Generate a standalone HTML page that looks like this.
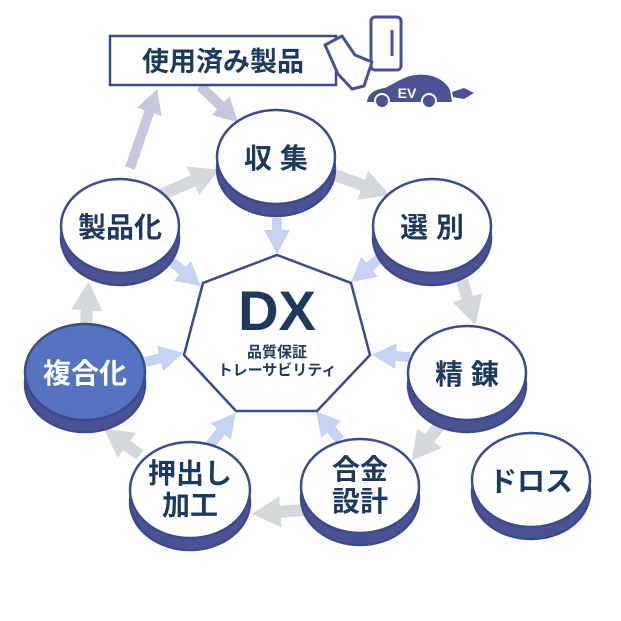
<!DOCTYPE html>
<html><head><meta charset="utf-8"><style>
html,body{margin:0;padding:0;background:#fff;width:621px;height:621px;overflow:hidden}
svg text{font-family:"Liberation Sans","Noto Sans CJK JP",sans-serif;font-weight:bold;fill:#1d3a5c;text-anchor:middle}
</style></head><body>
<svg width="621" height="621" viewBox="0 0 621 621" xmlns="http://www.w3.org/2000/svg">
<defs>
<marker id="g" markerWidth="2.4" markerHeight="2.6" refX="0.2" refY="1.3" orient="auto" markerUnits="strokeWidth"><path d="M0,0 L2.4,1.3 L0,2.6z" fill="#d5d8dc"/></marker>
<marker id="b" markerWidth="2.4" markerHeight="2.6" refX="0.2" refY="1.3" orient="auto" markerUnits="strokeWidth"><path d="M0,0 L2.4,1.3 L0,2.6z" fill="#c4d3f1"/></marker>
<marker id="l" markerWidth="2.4" markerHeight="2.6" refX="0.2" refY="1.3" orient="auto" markerUnits="strokeWidth"><path d="M0,0 L2.4,1.3 L0,2.6z" fill="#c6c6dd"/></marker>
</defs>
<g stroke="#d5d8dc" stroke-width="12" marker-end="url(#g)" fill="none">
<line x1="160" y1="195" x2="195" y2="180"/>
<line x1="335" y1="175" x2="365" y2="186"/>
<line x1="462" y1="280" x2="468" y2="300"/>
<line x1="440" y1="425" x2="428" y2="440"/>
<line x1="305" y1="510" x2="278" y2="512"/>
<line x1="140" y1="455" x2="125" y2="444"/>
<line x1="86" y1="325" x2="87" y2="308"/>
</g>
<g stroke="#c6c6dd" stroke-width="10" marker-end="url(#l)" fill="none">
<line x1="130" y1="168" x2="150" y2="110"/>
<line x1="200" y1="86" x2="222" y2="107"/>
</g>
<g stroke="#c4d3f1" stroke-width="10" marker-end="url(#b)" fill="none">
<line x1="277" y1="218" x2="277" y2="232"/>
<line x1="380" y1="258" x2="368" y2="268"/>
<line x1="172" y1="262" x2="184" y2="272"/>
<line x1="410" y1="357" x2="394" y2="356"/>
<line x1="145" y1="362" x2="162" y2="358"/>
<line x1="210" y1="445" x2="222" y2="430"/>
<line x1="340" y1="440" x2="330" y2="428"/>
</g>
<polygon points="277,255 351,283 370,355 317,411 236,411 184,355 203,283" fill="#fff" stroke="#3b4a8f" stroke-width="2.5"/>
<text x="277" y="330" font-size="56" style="font-weight:bold">DX</text>
<text x="277" y="357" font-size="15">品質保証</text>
<text x="277" y="375" font-size="15">トレーサビリティ</text>
<g stroke="#3b4a8f" stroke-width="2.5">
<ellipse cx="276" cy="169" rx="59" ry="47" fill="#4b5294"/><ellipse cx="276" cy="157" rx="59" ry="47" fill="#fff"/>
<ellipse cx="432" cy="238" rx="59" ry="47" fill="#4b5294"/><ellipse cx="432" cy="226" rx="59" ry="47" fill="#fff"/>
<ellipse cx="120" cy="238" rx="59" ry="47" fill="#4b5294"/><ellipse cx="120" cy="226" rx="59" ry="47" fill="#fff"/>
<ellipse cx="467" cy="385" rx="59" ry="47" fill="#4b5294"/><ellipse cx="467" cy="373" rx="59" ry="47" fill="#fff"/>
<ellipse cx="85" cy="384" rx="60" ry="48" fill="#4b5294"/><ellipse cx="85" cy="372" rx="60" ry="48" fill="#5573c1"/>
<ellipse cx="360" cy="498" rx="59" ry="47" fill="#4b5294"/><ellipse cx="360" cy="486" rx="59" ry="47" fill="#fff"/>
<ellipse cx="190" cy="502" rx="60" ry="48" fill="#4b5294"/><ellipse cx="190" cy="490" rx="60" ry="48" fill="#fff"/>
<ellipse cx="531" cy="492" rx="59" ry="47" fill="#4b5294"/><ellipse cx="531" cy="480" rx="59" ry="47" fill="#fff"/>
</g>
<text x="276" y="168" font-size="28">収 集</text>
<text x="432" y="237" font-size="28">選 別</text>
<text x="120" y="237" font-size="28">製品化</text>
<text x="467" y="384" font-size="28">精 錬</text>
<text x="85" y="383" font-size="28" style="fill:#fff">複合化</text>
<text x="360" y="479" font-size="28">合金</text>
<text x="360" y="511" font-size="28">設計</text>
<text x="190" y="483" font-size="28">押出し</text>
<text x="190" y="515" font-size="28">加工</text>
<text x="531" y="491" font-size="28">ドロス</text>
<rect x="110" y="36" width="226" height="49" fill="#fff" stroke="#3b4a8f" stroke-width="2.5"/>
<text x="223" y="71" font-size="27">使用済み製品</text>
<g fill="#fff" stroke="#4b5294" stroke-width="3" stroke-linejoin="round">
<rect x="371" y="17" width="30" height="53" rx="4"/>
<line x1="392" y1="30" x2="392" y2="56"/>
<path d="M325,45 L342,36 L355,55 L372,62 L364,86 L352,89 L338,74 Z"/>
</g>
<g fill="#4b5294">
<path d="M367,102 Q368,90 385,88 L400,80 Q415,72 432,76 Q445,80 450,90 L452,102 Z"/>
<circle cx="382" cy="101" r="7" stroke="#fff" stroke-width="2"/>
<circle cx="429" cy="101" r="7" stroke="#fff" stroke-width="2"/>
<path d="M452,92 L464,88 L474,93 L464,99 L453,97Z"/>
</g>
<text x="407" y="98" font-size="14" style="fill:#fff">EV</text>
</svg>
</body></html>
